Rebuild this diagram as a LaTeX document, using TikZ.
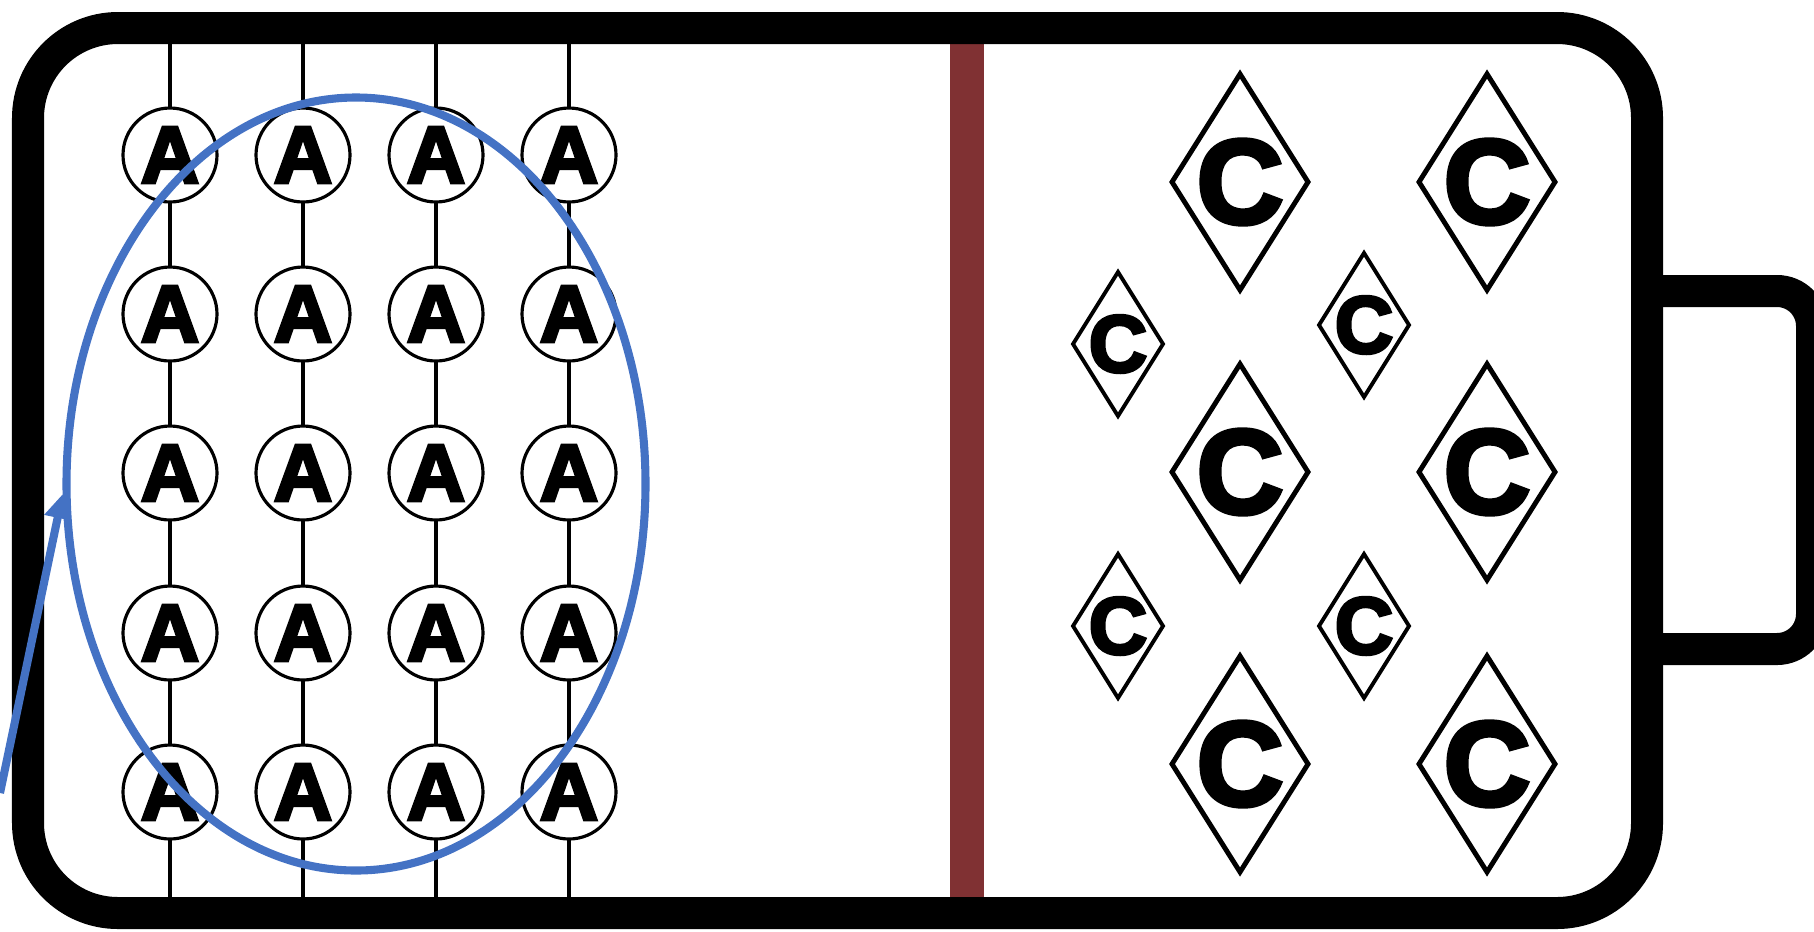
\documentclass[tikz,border=0pt]{standalone}
\usepackage{fontspec}
\usetikzlibrary{shapes.geometric,arrows.meta}
\newfontfamily\heavyfont{Liberation Sans Bold}[FakeBold=4]
\definecolor{sepbrown}{RGB}{128,49,51}
\definecolor{groupblue}{RGB}{68,114,196}

\begin{document}
\begin{tikzpicture}[every node/.style={inner sep=0pt},
    anode/.style={circle, draw, line width=0.9pt, fill=white, minimum size=0.94cm,
      font=\heavyfont\fontsize{23}{23}\selectfont},
    cdiam/.style={draw, line width=1.4pt, fill=white, line join=miter},
    bigc/.style={font=\heavyfont\fontsize{34}{34}\selectfont},
    smallc/.style={font=\heavyfont\fontsize{23}{23}\selectfont}]
  \useasboundingbox (0,0) rectangle (18.14,9.31);
  % wires
  \foreach \x in {1.70,3.03,4.36,5.69}
    \draw[line width=1.1pt] (\x,0.18) -- (\x,9.03);
  % separator
  \fill[sepbrown] (9.50,0.18) rectangle (9.84,9.03);
  % terminal
  \draw[line width=0.32cm, rounded corners=0.35cm]
    (16.47,6.40) -- (18.12,6.40) -- (18.12,2.82) -- (16.47,2.82);
  % case
  \draw[line width=0.32cm, rounded corners=0.9cm] (0.28,0.18) rectangle (16.47,9.03);
  % anode
  \foreach \x [count=\i] in {1.70,3.03,4.36,5.69}
    \foreach \y [count=\j] in {7.76,6.17,4.58,2.98,1.39}
      \node[anode] (a\i\j) at (\x,\y) {A};
  % cathode, big
  \foreach \x/\y [count=\k] in {12.40/7.49,14.87/7.49,12.40/4.59,14.87/4.59,12.40/1.67,14.87/1.67} {
    \draw[cdiam] (\x,\y) ++(-0.68,0) -- ++(0.68,1.08) -- ++(0.68,-1.08) -- ++(-0.68,-1.08) -- cycle;
    \node[bigc] (cb\k) at (\x,\y) {C};
  }
  % cathode, small
  \foreach \x/\y [count=\k] in {11.18/5.87,13.64/6.06,11.18/3.05,13.64/3.05} {
    \draw[cdiam, line width=1.1pt] (\x,\y) ++(-0.45,0) -- ++(0.45,0.72) -- ++(0.45,-0.72) -- ++(-0.45,-0.72) -- cycle;
    \node[smallc] (cs\k) at (\x,\y) {C};
  }
  % group
  \node[ellipse, draw=groupblue, line width=2.3pt, minimum width=5.79cm, minimum height=7.73cm]
    (grp) at (3.56,4.47) {};
  \coordinate (src) at (0,1.38);
  \draw[groupblue, line width=2.3pt, -{Triangle[length=2.4mm,width=2.6mm]}] (src) -- (grp.182);
\end{tikzpicture}
\end{document}
